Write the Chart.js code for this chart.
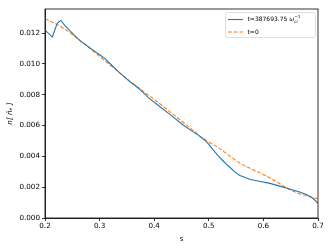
<!DOCTYPE html>
<html>
<head>
<meta charset="utf-8">
<script src="https://cdn.jsdelivr.net/npm/chart.js@4.4.1/dist/chart.umd.min.js"></script>
<style>
  body { margin: 0; background: #fff; }
  canvas { display: block; }
</style>
</head>
<body>
<canvas id="ProfileChart" width="332" height="249"></canvas>
<script>
// blue curve, t=387693.75
var sNow = [0.2, 0.2134, 0.2225, 0.229, 0.237, 0.245, 0.255, 0.264, 0.28, 0.29, 0.3007, 0.31, 0.32, 0.33, 0.337, 0.346, 0.356, 0.365, 0.374, 0.39, 0.4106, 0.43, 0.45, 0.4656, 0.48, 0.493, 0.5, 0.508, 0.517, 0.525, 0.532, 0.539, 0.548, 0.557, 0.575, 0.59, 0.612, 0.63, 0.649, 0.665, 0.679, 0.69, 0.7];
var nNow = [0.0122, 0.01175, 0.01266, 0.01283, 0.01248, 0.01218, 0.01182, 0.01152, 0.0111, 0.01085, 0.01058, 0.01035, 0.0100, 0.00965, 0.00942, 0.00915, 0.00882, 0.0086, 0.00833, 0.0078, 0.00722, 0.0067, 0.00612, 0.00572, 0.0054, 0.00505, 0.00478, 0.00442, 0.00405, 0.00375, 0.0035, 0.00328, 0.00298, 0.00276, 0.00251, 0.0024, 0.00225, 0.00207, 0.00187, 0.0017, 0.00152, 0.0013, 0.00097];

// orange dashed curve, t=0
var sInit = [0.2, 0.23, 0.27, 0.31, 0.356, 0.4, 0.45, 0.493, 0.514, 0.557, 0.612, 0.655, 0.7];
var nInit = [0.01294, 0.0124, 0.01136, 0.0102, 0.00887, 0.0077, 0.0063, 0.00508, 0.00465, 0.00357, 0.0026, 0.00173, 0.00123];

var xTicks = [0.2, 0.3, 0.4, 0.5, 0.6, 0.7];
var yTicks = [0, 0.002, 0.004, 0.006, 0.008, 0.010, 0.012];

var FONT = 'DejaVu Sans';

function pairs(xs, ys) {
	return xs.map(function(x, i) { return { x: x, y: ys[i] }; });
}

var framePlugin = {
	id: 'frame',
	afterDraw: function(chart) {
		var a = chart.chartArea, c = chart.ctx;
		c.save();
		c.strokeStyle = '#000';
		c.lineWidth = 0.8;
		c.strokeRect(a.left, a.top, a.right - a.left, a.bottom - a.top);
		c.restore();
	}
};

var legendPlugin = {
	id: 'mplLegend',
	afterDraw: function(chart) {
		var c = chart.ctx;
		c.save();
		// box
		var bx = 225.5, by = 12.5, bw = 90, bh = 25, r = 2;
		c.fillStyle = 'rgba(255,255,255,0.8)';
		c.strokeStyle = '#d6d6d6';
		c.lineWidth = 0.8;
		c.beginPath();
		c.moveTo(bx + r, by);
		c.arcTo(bx + bw, by, bx + bw, by + bh, r);
		c.arcTo(bx + bw, by + bh, bx, by + bh, r);
		c.arcTo(bx, by + bh, bx, by, r);
		c.arcTo(bx, by, bx + bw, by, r);
		c.closePath();
		c.fill();
		c.stroke();

		// handles
		c.lineWidth = 1.1;
		c.strokeStyle = '#1f77b4';
		c.beginPath(); c.moveTo(228, 19.5); c.lineTo(243, 19.5); c.stroke();
		c.strokeStyle = '#ff7f0e';
		c.setLineDash([4, 1.7]);
		c.beginPath(); c.moveTo(228, 32); c.lineTo(243, 32); c.stroke();
		c.setLineDash([]);

		// labels
		c.fillStyle = '#000';
		c.textBaseline = 'middle';
		c.textAlign = 'left';
		c.font = '6px "' + FONT + '"';
		var t1 = 't=387693.75 ';
		c.fillText(t1, 247.5, 19.5);
		var x = 247.5 + c.measureText(t1).width;
		c.font = 'italic 6px "' + FONT + '"';
		c.fillText('\u03c9', x, 19.5);
		x += c.measureText('\u03c9').width;
		c.font = 'italic 4.3px "' + FONT + '"';
		c.fillText('ci', x, 21.5);
		c.font = '4.3px "' + FONT + '"';
		c.fillText('\u22121', x, 16.5);
		c.font = '6px "' + FONT + '"';
		c.fillText('t=0', 247.5, 32);
		c.restore();
	}
};

var ctx = document.getElementById('ProfileChart').getContext('2d');
var config = {
	type: 'line',
	data: {
		datasets: [{
			label: 't=387693.75',
			data: pairs(sNow, nNow),
			borderColor: '#1f77b4',
			borderWidth: 1.1,
			pointRadius: 0,
			tension: 0,
			fill: false
		}, {
			label: 't=0',
			data: pairs(sInit, nInit),
			borderColor: '#ff7f0e',
			borderWidth: 1.1,
			borderDash: [4, 1.7],
			pointRadius: 0,
			cubicInterpolationMode: 'monotone',
			fill: false
		}]
	},
	options: {
		responsive: false,
		animation: false,
		layout: { padding: { top: 9, right: 14, left: 0, bottom: 0 } },
		plugins: { legend: { display: false }, tooltip: { enabled: false } },
		scales: {
			x: {
				type: 'linear',
				min: 0.2,
				max: 0.7,
				afterBuildTicks: function(scale) {
					scale.ticks = xTicks.map(function(v) { return { value: v }; });
				},
				afterFit: function(scale) { scale.height = 31; },
				grid: { drawOnChartArea: false, drawTicks: true, tickLength: 3, color: '#000', lineWidth: 0.8 },
				border: { display: true, color: '#000', width: 0.8 },
				ticks: {
					color: '#000',
					font: { family: FONT, size: 7.2 },
					padding: 1,
					maxRotation: 0,
					callback: function(v) { return v.toFixed(1); }
				},
				title: {
					display: true,
					text: 's',
					color: '#000',
					font: { family: FONT, size: 7.2 },
					padding: { top: 0, bottom: 6 }
				}
			},
			y: {
				type: 'linear',
				min: 0,
				max: 0.01357,
				afterBuildTicks: function(scale) {
					scale.ticks = yTicks.map(function(v) { return { value: v }; });
				},
				afterFit: function(scale) { scale.width = 45; },
				grid: { drawOnChartArea: false, drawTicks: true, tickLength: 3, color: '#000', lineWidth: 0.8 },
				border: { display: true, color: '#000', width: 0.8 },
				ticks: {
					color: '#000',
					font: { family: FONT, size: 7.2 },
					padding: 2,
					callback: function(v) { return v.toFixed(3); }
				},
				title: {
					display: true,
					text: 'n[ n\u0304\u2091 ]',
					color: '#000',
					font: { family: FONT, size: 7.2, style: 'italic' },
					padding: { top: 6, bottom: 0 }
				}
			}
		}
	},
	plugins: [framePlugin, legendPlugin]
};

var chart = new Chart(ctx, config);
</script>
</body>
</html>
